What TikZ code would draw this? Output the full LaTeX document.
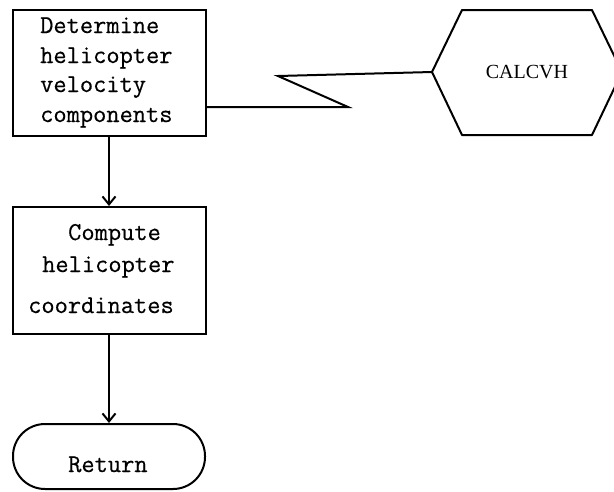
\documentclass[tikz,border=0pt]{standalone}
\usepackage{fontspec}
\setmainfont{Liberation Serif}
\newfontfamily\twfont[FakeBold=0.5]{Latin Modern Mono}
\usetikzlibrary{arrows.meta}
\tikzset{
  box/.style={draw, line width=2pt, minimum width=193pt, inner sep=0pt},
  txt/.style={font=\twfont\fontsize{25.7}{30}\selectfont, anchor=base west, inner sep=0pt},
  conn/.style={line width=2pt},
  arr/.style={line width=2pt, -{Straight Barb[length=8pt,width=13pt,line width=2pt]}},
}
\begin{document}
\begin{tikzpicture}[x=1pt,y=-1pt]
\useasboundingbox (0,0) rectangle (614,491);
\clip (0,0) rectangle (614,491);
% boxes
\node[box, minimum height=126pt] (b1) at (109,73) {};
\node[box, minimum height=127pt] (b2) at (109,270.5) {};
\node[box, minimum width=192pt, minimum height=65pt, rounded corners=32pt] (ret) at (109,456.5) {};
% texts
\node[txt] (t1) at (40,33) {Determine};
\node[txt] (t2) at (40,63) {helicopter};
\node[txt] (t3) at (40,92) {velocity};
\node[txt] (t4) at (40,122) {components};
\node[txt] (t5) at (68,240) {Compute};
\node[txt] (t6) at (42,272) {helicopter};
\node[txt] (t7) at (28,313) {coordinates};
\node[txt] (t8) at (68,472) {Return};
% hexagon
\draw[conn, line join=round] (432,72) -- (462,10) -- (592,10) -- (622,72) -- (592,135) -- (462,135) -- cycle;
\coordinate (hexL) at (432,72);
\node[font=\fontsize{20}{24}\selectfont, inner sep=0pt] (calc) at (527,72) {CALCVH};
% connectors
\draw[arr] (b1.south) -- (b2.north);
\draw[arr] (b2.south) -- (ret.north);
\coordinate (z1) at ([yshift=-34pt]b1.east);
\draw[conn, line join=miter] (z1) -- (348,107) -- (278,76) -- (hexL);
\end{tikzpicture}
\end{document}
